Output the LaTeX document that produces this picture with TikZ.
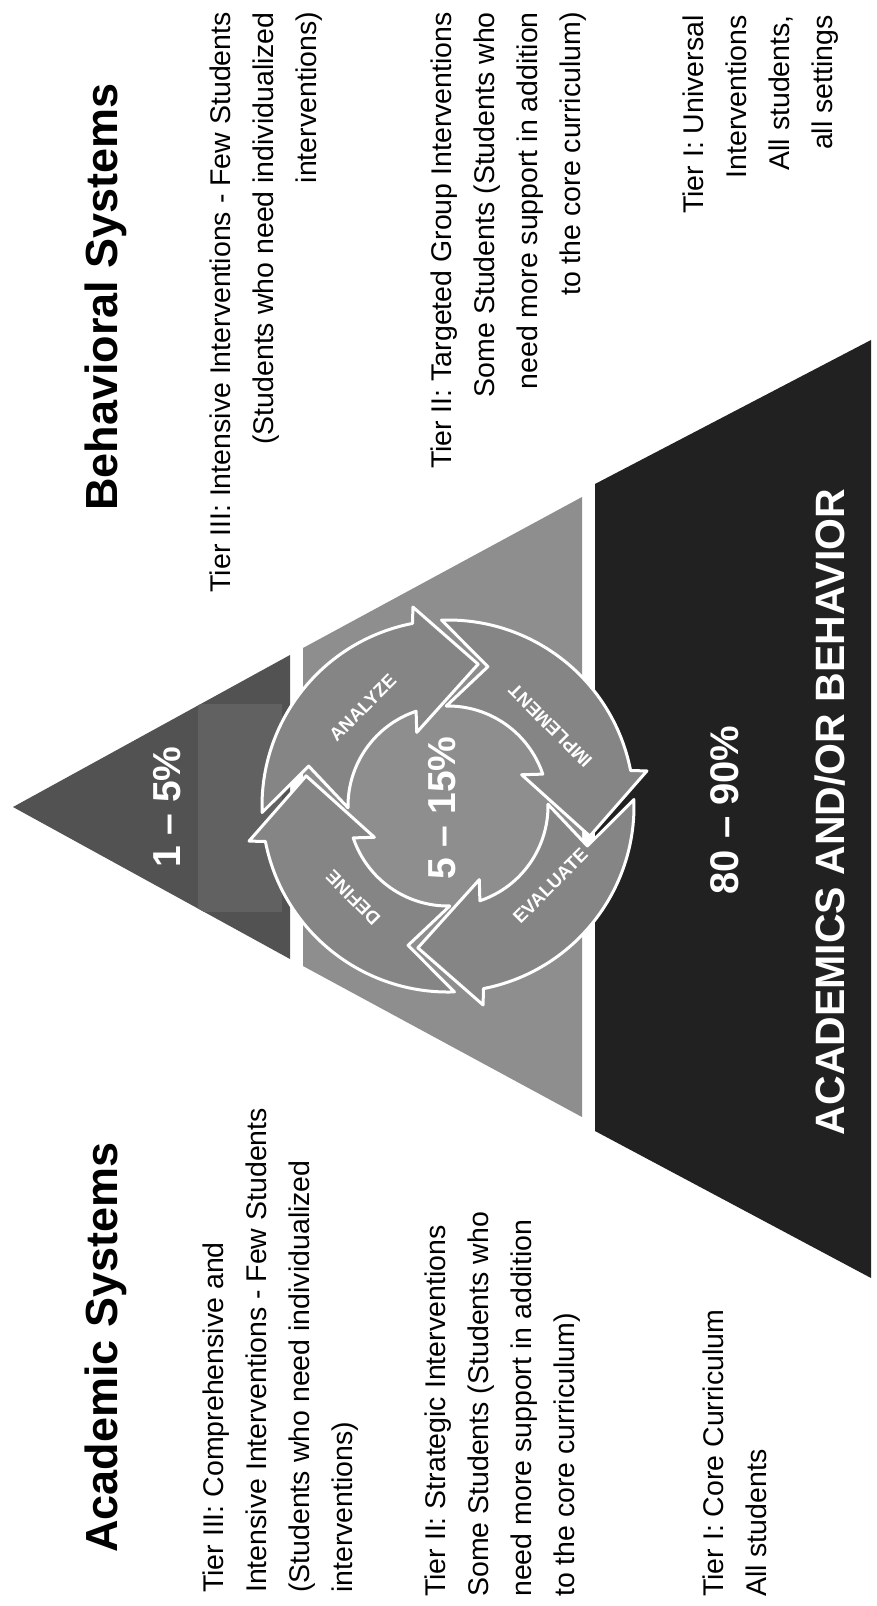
\documentclass[tikz,border=0pt]{standalone}
\usepackage{fontspec}
\setmainfont{Liberation Sans}
\usetikzlibrary{calc}
\definecolor{tierTop}{HTML}{525252}
\definecolor{tierTopLight}{HTML}{616161}
\definecolor{tierMid}{HTML}{8E8E8E}
\definecolor{tierBase}{HTML}{212121}
\definecolor{cycFill}{HTML}{858585}
\tikzset{
  body/.style={font=\fontsize{28.5}{43}\selectfont, inner sep=0pt, rotate=90},
  ttl/.style={font=\fontsize{45}{54}\selectfont\bfseries, inner sep=0pt, rotate=90},
  pct/.style={font=\fontsize{39}{46}\selectfont\bfseries, text=white, inner sep=0pt, rotate=90},
  cyclbl/.style={font=\fontsize{18.5}{20}\selectfont\bfseries, text=white, inner sep=0pt},
  cyc/.style={fill=cycFill, draw=white, line width=3pt, line join=round},
}
\newcommand\cycarrow[1]{%
  \path[cyc] ($(C)+({#1+104}:186pt)$) arc[start angle={#1+104}, end angle={#1+23}, radius=186pt]
    -- ($(C)+({#1+22}:202pt)$) -- ($(C)+(#1:145pt)$) -- ($(C)+({#1+35}:80pt)$)
    -- ($(C)+({#1+30.6}:100pt)$) arc[start angle={#1+30.6}, end angle={#1+103}, radius=100pt]
    -- ($(C)+({#1+86}:145pt)$) -- cycle;}
\begin{document}
\begin{tikzpicture}[x=1pt,y=-1pt]
\useasboundingbox[fill=white] (0,0) rectangle (876,1606);

% pyramid tiers
\fill[tierTop] (13,807) -- (290,655) -- (290,959) -- cycle;
\begin{scope}
  \clip (13,807) -- (290,655) -- (290,959) -- cycle;
  \fill[tierTopLight] (198,704) rectangle (282,912);
\end{scope}
\fill[tierMid] (303,648) -- (582,497) -- (582,1117) -- (303,966) -- cycle;
\fill[tierBase] (595,484) -- (871,340) -- (871,1278) -- (595,1131) -- cycle;

% cycle
\coordinate (C) at (448,806);
\cycarrow{168}
\cycarrow{78}
\cycarrow{-12}
\cycarrow{-102}

\node[cyclbl, rotate=45]  (lanalyze) at ($(C)+(131:130pt)$) {ANALYZE};
\node[cyclbl, rotate=135] (limpl)    at ($(C)+(38:130pt)$)  {IMPLEMENT};
\node[cyclbl, rotate=45]  (leval)    at ($(C)+(-38:130pt)$) {EVALUATE};
\node[cyclbl, rotate=135] (ldefine)  at ($(C)+(224:132pt)$) {DEFINE};

% percentages
\node[pct] (p1) at (167,807) {1 – 5\%};
\node[pct] (p2) at (442,808) {5 – 15\%};
\node[pct, font=\fontsize{40}{46}\selectfont\bfseries] (p3) at (725,810) {80 – 90\%};
\node[pct, font=\fontsize{41}{46}\selectfont\bfseries] (base) at (830,812) {ACADEMICS AND/OR BEHAVIOR};

% Academic column
\node[ttl, anchor=north west] (tA) at (85,1553) {Academic Systems};
\node[body, anchor=north west, align=left] (a3) at (203,1593)
  {Tier III: Comprehensive and\\Intensive Interventions - Few Students\\(Students who need individualized\\interventions)};
\node[body, anchor=north west, align=left] (a2) at (425,1597)
  {Tier II: Strategic Interventions\\Some Students (Students who\\need more support in addition\\to the core curriculum)};
\node[body, anchor=north west, align=left] (a1) at (703,1597)
  {Tier I: Core Curriculum\\All students};

% Behavioral column
\node[ttl, anchor=north east] (tB) at (85,83) {Behavioral Systems};
\node[body, anchor=north east, align=right] (b3) at (210,12)
  {Tier III: Intensive Interventions - Few Students\\(Students who need individualized\\interventions)};
\node[body, anchor=north east, align=right] (b2) at (431,12)
  {Tier II: Targeted Group Interventions\\Some Students (Students who\\need more support in addition\\to the core curriculum)};
\node[body, anchor=north east, align=right] (b1) at (683,15)
  {Tier I: Universal\\Interventions\\All students,\\all settings};
\end{tikzpicture}
\end{document}
